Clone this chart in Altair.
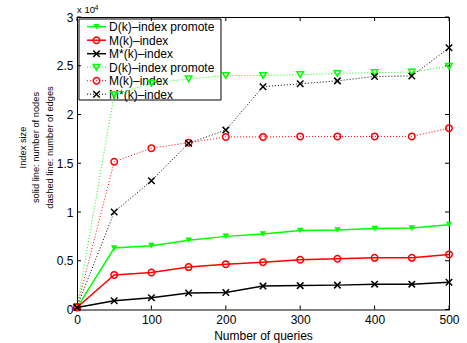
import altair as alt
import pandas as pd

# ---------------- data ----------------
queries = [0, 50, 100, 150, 200, 250, 300, 350, 400, 450, 500]

series_names = ["D(k)–index promote", "M(k)–index", "M*(k)–index"]
series_colors = ["#00ff00", "#ff0000", "#000000"]

# solid lines: number of nodes
d_nodes = [200, 6300, 6550, 7100, 7500, 7750, 8100, 8150, 8300, 8350, 8700]
m_nodes = [200, 3550, 3800, 4350, 4650, 4850, 5100, 5200, 5300, 5300, 5650]
ms_nodes = [200, 900, 1200, 1700, 1750, 2400, 2450, 2500, 2600, 2600, 2800]

# dotted lines: number of edges
d_edges = [250, 22050, 23200, 23650, 24000, 24000, 24100, 24200, 24300, 24350, 24950]
m_edges = [250, 15150, 16550, 17100, 17700, 17700, 17750, 17750, 17750, 17750, 18600]
ms_edges = [250, 10000, 13200, 17050, 18400, 22850, 23150, 23450, 23900, 23950, 26850]

x_ticks = [0, 100, 200, 300, 400, 500]
y_ticks = [0, 5000, 10000, 15000, 20000, 25000, 30000]

x_title = "Number of queries"
y_title = ["Index size", "solid line: number of nodes", "dashed line: number of edges"]

FONT = "Liberation Sans"
W, H = 372, 292.5

X_SHAPE = "M-1,-1L1,1M-1,1L1,-1"
shapes = ["triangle-down", "circle", X_SHAPE]
solid_filled = [True, False, False]

xscale = alt.Scale(domain=[0, 500], nice=False, zero=False)
yscale = alt.Scale(domain=[0, 30000], nice=False, zero=False)


def X(field="q"):
    return alt.X(
        f"{field}:Q",
        scale=xscale,
        axis=alt.Axis(
            values=x_ticks, title=x_title, labelFontSize=12, labelFont=FONT,
            labelPadding=5, labelColor="black", labelFlush=False,
            titleFont=FONT, titleFontSize=12,
            titleFontWeight="normal", titleColor="black", titleX=W / 2, titleY=30,
            titleBaseline="alphabetic", titleAlign="center",
        ),
    )


def Y(field="v"):
    return alt.Y(
        f"{field}:Q",
        scale=yscale,
        axis=alt.Axis(
            values=y_ticks, title=y_title, labelExpr="datum.value / 10000",
            labelFontSize=12, labelFont=FONT, labelPadding=4, labelColor="black",
            labelFlush=False,
            titleFont=FONT, titleFontSize=9.3, titleFontWeight="normal",
            titleColor="black", titleLineHeight=13.3, titleX=-54.3, titleY=130,
            titleBaseline="middle", titleAlign="center", titleAngle=270,
        ),
    )


layers = []

# ---------------- legend box (drawn under data) ----------------
legend_box = alt.Chart(pd.DataFrame({"a": [0]})).mark_rect(
    fill="white", stroke="black", strokeWidth=1
).encode(x=alt.value(2), x2=alt.value(144), y=alt.value(2), y2=alt.value(83))
layers.append(legend_box)

legend_entries = []
for kind in ["solid", "dotted"]:
    for i in range(3):
        legend_entries.append((kind, i))

for row, (kind, i) in enumerate(legend_entries):
    yy = 9.7 + 13.5 * row
    one = pd.DataFrame({"label": [series_names[i]]})
    rule_kw = dict(color=series_colors[i], strokeWidth=1.5 if kind == "solid" else 1)
    if kind == "dotted":
        rule_kw["strokeDash"] = [1, 2]
    layers.append(
        alt.Chart(one).mark_rule(**rule_kw).encode(
            x=alt.value(10), x2=alt.value(29), y=alt.value(yy)
        )
    )
    filled = solid_filled[i] if kind == "solid" else False
    pt_kw = dict(shape=shapes[i], size=42, strokeWidth=1.5, opacity=1,
                 filled=filled, color=series_colors[i])
    layers.append(
        alt.Chart(one).mark_point(**pt_kw).encode(x=alt.value(19.5), y=alt.value(yy))
    )
    layers.append(
        alt.Chart(one).mark_text(
            align="left", baseline="middle", font=FONT, fontSize=12, color="black"
        ).encode(x=alt.value(32), y=alt.value(yy + 0.5), text="label:N")
    )

# ---------------- inner ticks (Matlab style) ----------------
ydf = pd.DataFrame({"v": y_ticks})
xdf = pd.DataFrame({"q": x_ticks})
tick_style = dict(color="black", strokeWidth=1)
layers.append(alt.Chart(ydf).mark_rule(**tick_style).encode(y=Y(), x=alt.value(0), x2=alt.value(4)))
layers.append(alt.Chart(ydf).mark_rule(**tick_style).encode(y=Y(), x=alt.value(W - 4), x2=alt.value(W)))
layers.append(alt.Chart(xdf).mark_rule(**tick_style).encode(x=X(), y=alt.value(H - 4), y2=alt.value(H)))
layers.append(alt.Chart(xdf).mark_rule(**tick_style).encode(x=X(), y=alt.value(0), y2=alt.value(4)))

# ---------------- data series ----------------
node_lists = [d_nodes, m_nodes, ms_nodes]
edge_lists = [d_edges, m_edges, ms_edges]

# dotted (edges) first, then solid (nodes)
for kind, lists in [("dotted", edge_lists), ("solid", node_lists)]:
    for i in range(3):
        sub = pd.DataFrame({"q": queries, "v": lists[i]})
        line_kw = dict(color=series_colors[i], strokeWidth=1.5 if kind == "solid" else 1)
        if kind == "dotted":
            line_kw["strokeDash"] = [1, 2]
        layers.append(alt.Chart(sub).mark_line(**line_kw).encode(x=X(), y=Y()))
        filled = solid_filled[i] if kind == "solid" else False
        layers.append(
            alt.Chart(sub).mark_point(
                shape=shapes[i], size=42, strokeWidth=1.5, opacity=1,
                filled=filled, color=series_colors[i]
            ).encode(x=X(), y=Y())
        )

# ---------------- exponent label ----------------
layers.append(
    alt.Chart(pd.DataFrame({"t": ["x 10"]})).mark_text(
        align="left", baseline="alphabetic", font=FONT, fontSize=9.5, color="black"
    ).encode(x=alt.value(0), y=alt.value(-3.7), text="t:N")
)
layers.append(
    alt.Chart(pd.DataFrame({"t": ["4"]})).mark_text(
        align="left", baseline="alphabetic", font=FONT, fontSize=7, color="black"
    ).encode(x=alt.value(17.5), y=alt.value(-7), text="t:N")
)

chart = (
    alt.layer(*layers)
    .properties(
        width=W,
        height=H,
        autosize=alt.AutoSizeParams(type="none"),
        padding={"left": 77, "top": 17, "right": 18, "bottom": 33.5},
        background="white",
    )
    .configure_view(stroke="black", strokeWidth=1)
    .configure_axis(grid=False, domain=False, ticks=False)
)

chart.save("out.html", embed_options={"renderer": "svg", "actions": False})
